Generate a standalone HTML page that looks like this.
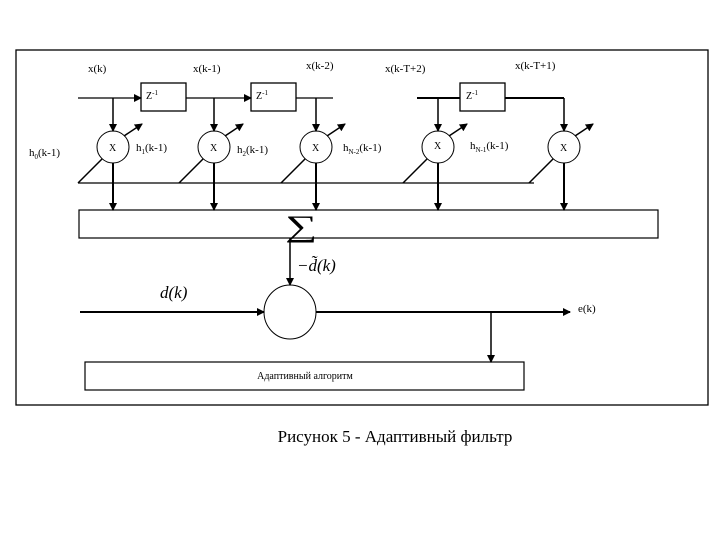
<!DOCTYPE html>
<html><head><meta charset="utf-8"><style>body{margin:0;background:#fff}svg{display:block}text{font-family:"Liberation Serif",serif;fill:#000}</style></head><body>
<svg width="720" height="540" viewBox="0 0 720 540">
<defs><marker id="a" markerWidth="8" markerHeight="8" refX="7" refY="4" orient="auto" markerUnits="userSpaceOnUse"><path d="M0,0 L8,4 L0,8z"/></marker></defs>
<rect x="16" y="50" width="692" height="355" fill="none" stroke="#000" stroke-width="1.3"/>
<g stroke="#000" stroke-width="1.3" fill="none">
<line x1="78" y1="98" x2="141" y2="98" marker-end="url(#a)"/>
<rect x="141" y="83" width="45" height="28"/>
<line x1="186" y1="98" x2="251" y2="98" marker-end="url(#a)"/>
<rect x="251" y="83" width="45" height="28"/>
<line x1="296" y1="98" x2="333" y2="98"/>
<line x1="417" y1="98" x2="460" y2="98" stroke-width="2"/>
<rect x="460" y="83" width="45" height="28"/>
<line x1="505" y1="98" x2="564" y2="98" stroke-width="2"/>
<line x1="78" y1="183" x2="534" y2="183"/>
</g>
<g stroke="#000" fill="none" stroke-width="1.5">
<g id="t"><line x1="113" y1="98" x2="113" y2="131" marker-end="url(#a)"/><circle cx="113" cy="147" r="16" stroke-width="1"/><line x1="78" y1="183" x2="102" y2="159"/><line x1="124" y1="136" x2="142" y2="124" marker-end="url(#a)"/><line x1="113" y1="163" x2="113" y2="210" stroke-width="2" marker-end="url(#a)"/></g>
<use href="#t" x="101"/><use href="#t" x="203"/><use href="#t" x="325"/><use href="#t" x="451"/>
<rect x="79" y="210" width="579" height="28" stroke-width="1.2"/>
<line x1="290" y1="238" x2="290" y2="285" marker-end="url(#a)"/>
<ellipse cx="290" cy="312" rx="26" ry="27" stroke-width="1"/>
<line x1="80" y1="312" x2="264" y2="312" stroke-width="2" marker-end="url(#a)"/>
<line x1="316" y1="312" x2="570" y2="312" stroke-width="2" marker-end="url(#a)"/>
<line x1="491" y1="312" x2="491" y2="362" marker-end="url(#a)"/>
<rect x="85" y="362" width="439" height="28" stroke-width="1.2"/>
</g>
<g font-size="11">
<text x="88" y="72">x(k)</text><text x="193" y="72">x(k-1)</text><text x="306" y="69">x(k-2)</text><text x="385" y="72">x(k-T+2)</text><text x="515" y="69">x(k-T+1)</text>
<text x="146" y="99" font-size="10">Z<tspan font-size="7" dy="-4">-1</tspan></text>
<text x="256" y="99" font-size="10">Z<tspan font-size="7" dy="-4">-1</tspan></text>
<text x="466" y="99" font-size="10">Z<tspan font-size="7" dy="-4">-1</tspan></text>
<text x="29" y="156">h<tspan font-size="7" dy="3">0</tspan><tspan dy="-3">(k-1)</tspan></text>
<text x="136" y="151">h<tspan font-size="7" dy="3">1</tspan><tspan dy="-3">(k-1)</tspan></text>
<text x="237" y="153">h<tspan font-size="7" dy="3">2</tspan><tspan dy="-3">(k-1)</tspan></text>
<text x="343" y="151">h<tspan font-size="7" dy="3">N-2</tspan><tspan dy="-3">(k-1)</tspan></text>
<text x="470" y="149">h<tspan font-size="7" dy="3">N-1</tspan><tspan dy="-3">(k-1)</tspan></text>
<text x="109" y="151" font-size="10">X</text><text x="210" y="151" font-size="10">X</text><text x="312" y="151" font-size="10">X</text><text x="434" y="149" font-size="10">X</text><text x="560" y="151" font-size="10">X</text>
<text x="578" y="312">e(k)</text>
<text x="305" y="379" font-size="10" text-anchor="middle">Адаптивный алгоритм</text>
</g>
<text transform="translate(285,236) scale(1.5,1)" font-size="30">∑</text>
<text x="297" y="271" font-size="17" font-style="italic">−d̃(k)</text>
<text x="160" y="298" font-size="17" font-style="italic">d(k)</text>
<text x="395" y="442" font-size="17" text-anchor="middle">Рисунок 5 - Адаптивный фильтр</text>
</svg>
</body></html>
